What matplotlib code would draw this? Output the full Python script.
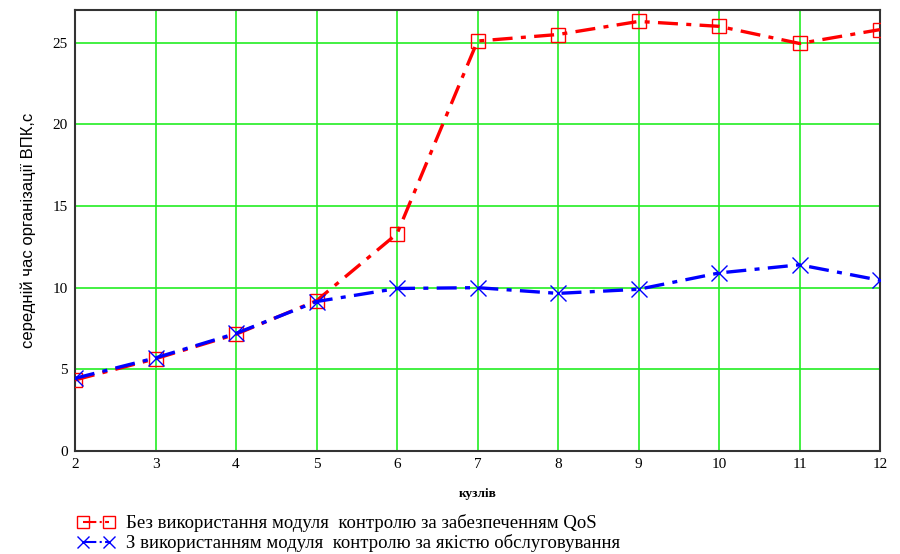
import matplotlib
matplotlib.use("Agg")
import matplotlib.pyplot as plt
from matplotlib.lines import Line2D

# nodes on the x axis
nodes = [2, 3, 4, 5, 6, 7, 8, 9, 10, 11, 12]

# mean VPC setup time, s
t_without_qos = [4.35, 5.65, 7.15, 9.2, 13.3, 25.1, 25.5, 26.3, 26.0, 24.95, 25.8]
t_with_qos = [4.45, 5.7, 7.2, 9.15, 9.95, 10.0, 9.65, 9.9, 10.9, 11.4, 10.45]

label_red = "Без використання модуля  контролю за забезпеченням QoS"
label_blue = "З використанням модуля  контролю за якістю обслуговування"

serif = "Liberation Serif"
sans = "Liberation Sans"

fig = plt.figure(figsize=(9, 5.54), dpi=100)
ax = fig.add_axes([75 / 900, 103 / 554, 805 / 900, 441 / 554])

ax.plot(nodes, t_without_qos, color="red", ls=(0, (6, 2.5, 1.5, 2.5)), lw=2.4,
        marker="s", ms=10, mfc="none", mec="red", mew=1.0, zorder=3)
ax.plot(nodes, t_with_qos, color="blue", ls=(0, (6, 2.5, 1.5, 2.5)), lw=2.4,
        marker="x", ms=11, mec="blue", mew=1.0, zorder=4)

ax.set_xlim(2, 12)
ax.set_ylim(0, 27)
ax.set_xticks(nodes)
ax.set_yticks([0, 5, 10, 15, 20, 25])
ax.grid(True, color="#22ee22", lw=1.2)
ax.set_axisbelow(True)
ax.tick_params(length=0, pad=5)
for lab in ax.get_xticklabels() + ax.get_yticklabels():
    lab.set_family(serif)
    lab.set_fontsize(11)
for side in ax.spines.values():
    side.set_color("#333333")
    side.set_linewidth(1.5)

ax.set_ylabel("середній час організації ВПК,с", family=sans, fontsize=12, labelpad=12)
ax.set_xlabel("кузлів", family=serif, fontsize=9.5, fontweight="bold", labelpad=12)

handles = [
    Line2D([], [], color="red", ls="-.", lw=1.5, marker="s", ms=8, mfc="none", mec="red"),
    Line2D([], [], color="blue", ls="-.", lw=1.5, marker="x", ms=9, mec="blue"),
]
fig.legend(handles, [label_red, label_blue], loc="upper left",
           bbox_to_anchor=(68 / 900, 1 - 505 / 554), frameon=False,
           prop={"family": serif, "size": 13.5}, numpoints=2,
           handlelength=2.0, handletextpad=0.6, labelspacing=0.1, borderpad=0)

fig.savefig("out.png", dpi=100)
